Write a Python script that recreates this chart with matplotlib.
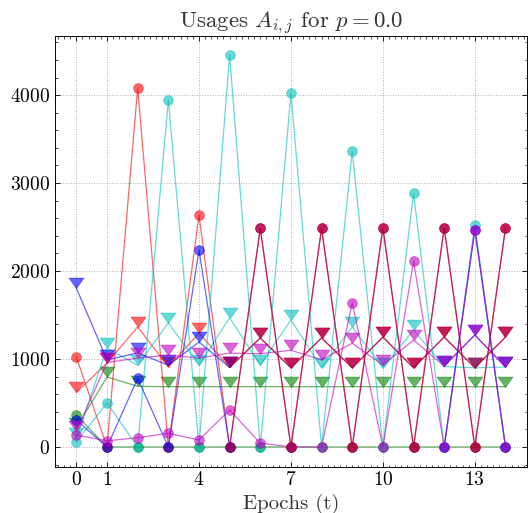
import numpy as np
import matplotlib
matplotlib.use("Agg")
import matplotlib.pyplot as plt
from matplotlib.path import Path
from matplotlib.ticker import MultipleLocator, FixedLocator

nan = np.nan
epochs = np.arange(15)
xtick_positions = [0, 1, 4, 7, 10, 13]

# usage of the first resource (circles) and second resource (triangles) per agent
green_circ = [364, 0, 0, 0, 0, 0, 0, 0, 0, 0, 0, 0, 0, 0, 0]
green_tri = [220, 795, 690, 685, 685, 685, 685, 685, 685, 685, 685, 685, 685, 685, 685]

red_circ = [1020, 0, 4080, 0, 2635, 0, 2485, 0, 2485, 0, 2490, 0, 2490, 0, 2490]
red_tri = [620, 955, 1365, 910, 1295, 905, 1240, 900, 1240, 900, 1250, 900, 1250, 900, 1250]

cyan_circ = [60, 500, 0, 3940, 0, 4455, 0, 4020, 0, 3360, 0, 2885, 0, 2525, 0]
cyan_tri = [100, 1125, 930, 1410, 930, 1470, 930, 1445, 900, 1365, 900, 1330, 915, 900, 910]

blue_circ = [307, 0, 780, 0, 2240, 0, nan, nan, nan, nan, nan, nan, 0, 2470, 0]
blue_tri = [1806, 990, 1070, 930, 1193, 905, nan, nan, nan, nan, nan, nan, 920, 1273, 910]

magenta_circ = [136, 70, 106, 155, 80, 420, 45, 0, 0, 1640, 0, 2110, 0, 2470, 0]
magenta_tri = [180, 960, 1011, 1045, 1011, 1068, 1060, 1100, 990, 1180, 932, 1216, 920, 1273, 910]

crimson_circ = [nan] * 5 + [0, 2485, 0, 2485, 0, 2490, 0, 2490, 0, 2490]
crimson_tri = [nan] * 5 + [905, 1240, 900, 1240, 900, 1250, 900, 1250, 900, 1250]

series = [
    ("#008000", 0.6, green_circ, green_tri),
    ("#FF0000", 0.6, red_circ, red_tri),
    ("#00BFBF", 0.6, cyan_circ, cyan_tri),
    ("#0000FF", 0.6, blue_circ, blue_tri),
    ("#BF00BF", 0.6, magenta_circ, magenta_tri),
    ("#A50055", 0.7, crimson_circ, crimson_tri),
]

plt.rcParams.update({
    "font.family": "cmr10",
    "mathtext.fontset": "cm",
    "axes.formatter.use_mathtext": True,
    "axes.unicode_minus": False,
    "xtick.direction": "in",
    "ytick.direction": "in",
    "xtick.top": True,
    "ytick.right": True,
    "xtick.major.size": 3.5,
    "ytick.major.size": 3.5,
    "xtick.minor.size": 1.8,
    "ytick.minor.size": 1.8,
    "xtick.major.width": 0.6,
    "ytick.major.width": 0.6,
    "xtick.minor.width": 0.5,
    "ytick.minor.width": 0.5,
    "axes.linewidth": 0.7,
})

# downward triangle whose tip sits on the data point
tri_marker = Path([(-1.0, 1.4), (0.0, 0.0), (1.0, 1.4), (-1.0, 1.4)],
                  [Path.MOVETO, Path.LINETO, Path.LINETO, Path.CLOSEPOLY])

fig = plt.figure(figsize=(5.28, 5.13), dpi=100)
ax = fig.add_axes([0.104, 0.0906, 0.894, 0.8392])

for color, alpha, circ, tri in series:
    ax.plot(epochs, circ, color=color, alpha=alpha, lw=0.9, marker="o",
            ms=7, mec=color, mew=0.5)
    ax.plot(epochs, tri, color=color, alpha=alpha, lw=0.9, marker=tri_marker,
            ms=15, mec=color, mew=0.5)

ax.set_xlim(-0.7, 14.7)
ax.set_ylim(-222, 4672)
ax.xaxis.set_major_locator(FixedLocator(xtick_positions))
ax.xaxis.set_minor_locator(MultipleLocator(0.2))
ax.yaxis.set_major_locator(MultipleLocator(1000))
ax.yaxis.set_minor_locator(MultipleLocator(200))
ax.grid(True, which="major", ls=":", color="#999999", lw=0.7, alpha=0.8)
ax.tick_params(labelsize=14)

ax.set_title(r"Usages $A_{i,j}$ for $p = 0.0$", fontsize=16.5, color="#333333")
ax.set_xlabel("Epochs (t)", fontsize=15, color="#333333", labelpad=3)

fig.savefig("out.png", dpi=100)
